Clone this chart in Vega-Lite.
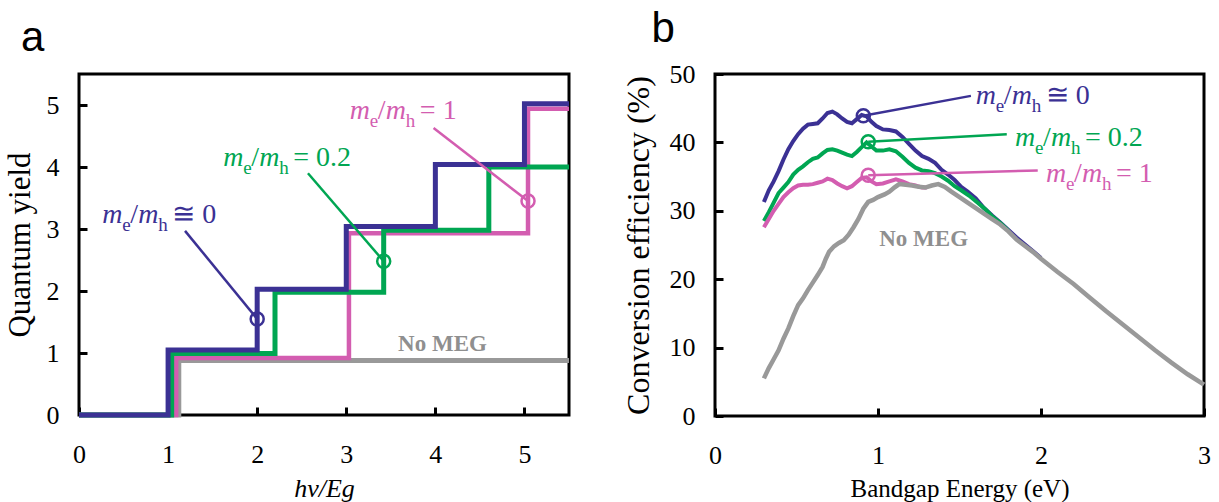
{
  "$schema": "https://vega.github.io/schema/vega-lite/v6.json",
  "background": "white",
  "padding": {"left": 2, "top": 6, "right": 5, "bottom": 0},
  "spacing": 146,
  "bounds": "flush",
  "config": {
    "view": {"stroke": "black", "strokeWidth": 3},
    "axis": {
      "domain": false, "grid": false, "tickColor": "black", "tickWidth": 3, "tickSize": -8,
      "labelFont": "Liberation Serif", "labelFontSize": 26, "labelColor": "black",
      "labelFlush": false, "labelOverlap": false,
      "titleFont": "Liberation Serif", "titleFontWeight": "normal", "titleColor": "black"
    },
    "style": {"guide-label": {"font": "Liberation Serif"}, "guide-title": {"font": "Liberation Serif"}},
    "text": {"font": "Liberation Serif"}
  },
  "datasets": {
    "stepA": [
      {"s": "none", "x": 0, "y": 0}, {"s": "none", "x": 1.12, "y": 0.88}, {"s": "none", "x": 5.5, "y": 0.88},
      {"s": "m1", "x": 0, "y": 0}, {"s": "m1", "x": 1.09, "y": 0.92}, {"s": "m1", "x": 3.03, "y": 2.93}, {"s": "m1", "x": 5.04, "y": 4.94}, {"s": "m1", "x": 5.5, "y": 4.94},
      {"s": "m02", "x": 0, "y": 0}, {"s": "m02", "x": 1.04, "y": 0.99}, {"s": "m02", "x": 2.2, "y": 1.98}, {"s": "m02", "x": 3.42, "y": 2.98}, {"s": "m02", "x": 4.6, "y": 4.0}, {"s": "m02", "x": 5.5, "y": 4.0},
      {"s": "m0", "x": 0, "y": 0}, {"s": "m0", "x": 1, "y": 1.05}, {"s": "m0", "x": 2, "y": 2.03}, {"s": "m0", "x": 3, "y": 3.04}, {"s": "m0", "x": 4, "y": 4.04}, {"s": "m0", "x": 5, "y": 5.02}, {"s": "m0", "x": 5.5, "y": 5.02}
    ],
    "annA": [
      {"s": "m0", "x": 2.0, "y": 1.55, "x2": 1.19, "y2": 2.97},
      {"s": "m02", "x": 3.42, "y": 2.48, "x2": 2.57, "y2": 3.9},
      {"s": "m1", "x": 5.04, "y": 3.45, "x2": 3.98, "y2": 4.63}
    ],
    "labA": [
      {"s": "m0", "x": 0.26, "y": 3.1, "rhs": "≅ 0"},
      {"s": "m02", "x": 1.62, "y": 4.02, "rhs": "= 0.2"},
      {"s": "m1", "x": 3.04, "y": 4.77, "rhs": "= 1"}
    ],
    "megA": [{"x": 4.08, "y": 1.03}],
    "tagA": [{"x": -0.65, "y": 5.87, "t": "a"}],
    "effB": [
      {"s": "m0", "x": 0.30, "y": 31.3}, {"s": "m0", "x": 0.33, "y": 33.0}, {"s": "m0", "x": 0.36, "y": 34.3}, {"s": "m0", "x": 0.39, "y": 35.8}, {"s": "m0", "x": 0.42, "y": 37.5}, {"s": "m0", "x": 0.45, "y": 39.0}, {"s": "m0", "x": 0.48, "y": 40.2}, {"s": "m0", "x": 0.51, "y": 41.2}, {"s": "m0", "x": 0.54, "y": 42.0}, {"s": "m0", "x": 0.57, "y": 42.6}, {"s": "m0", "x": 0.60, "y": 42.7}, {"s": "m0", "x": 0.63, "y": 42.8}, {"s": "m0", "x": 0.66, "y": 43.5}, {"s": "m0", "x": 0.69, "y": 44.3}, {"s": "m0", "x": 0.72, "y": 44.5}, {"s": "m0", "x": 0.75, "y": 44.1}, {"s": "m0", "x": 0.78, "y": 43.5}, {"s": "m0", "x": 0.81, "y": 43.0}, {"s": "m0", "x": 0.84, "y": 42.8}, {"s": "m0", "x": 0.87, "y": 43.4}, {"s": "m0", "x": 0.90, "y": 44.0}, {"s": "m0", "x": 0.93, "y": 43.8}, {"s": "m0", "x": 0.96, "y": 43.0}, {"s": "m0", "x": 0.99, "y": 42.4}, {"s": "m0", "x": 1.03, "y": 41.9}, {"s": "m0", "x": 1.07, "y": 41.8}, {"s": "m0", "x": 1.11, "y": 41.6}, {"s": "m0", "x": 1.15, "y": 40.8}, {"s": "m0", "x": 1.19, "y": 39.8}, {"s": "m0", "x": 1.23, "y": 38.8}, {"s": "m0", "x": 1.27, "y": 38.0}, {"s": "m0", "x": 1.31, "y": 37.6}, {"s": "m0", "x": 1.35, "y": 37.0}, {"s": "m0", "x": 1.39, "y": 36.0}, {"s": "m0", "x": 1.43, "y": 35.3}, {"s": "m0", "x": 1.47, "y": 34.5}, {"s": "m0", "x": 1.51, "y": 33.5}, {"s": "m0", "x": 1.55, "y": 32.8}, {"s": "m0", "x": 1.60, "y": 31.8}, {"s": "m0", "x": 1.65, "y": 30.4}, {"s": "m0", "x": 1.70, "y": 29.3}, {"s": "m0", "x": 1.75, "y": 28.3}, {"s": "m0", "x": 1.80, "y": 27.2}, {"s": "m0", "x": 1.85, "y": 26.1}, {"s": "m0", "x": 1.90, "y": 25.1}, {"s": "m0", "x": 1.95, "y": 24.1}, {"s": "m0", "x": 2.00, "y": 23.1},
      {"s": "m02", "x": 0.30, "y": 28.5}, {"s": "m02", "x": 0.33, "y": 29.8}, {"s": "m02", "x": 0.36, "y": 31.2}, {"s": "m02", "x": 0.39, "y": 32.6}, {"s": "m02", "x": 0.42, "y": 33.4}, {"s": "m02", "x": 0.45, "y": 34.2}, {"s": "m02", "x": 0.48, "y": 35.3}, {"s": "m02", "x": 0.51, "y": 36.0}, {"s": "m02", "x": 0.54, "y": 36.5}, {"s": "m02", "x": 0.57, "y": 37.1}, {"s": "m02", "x": 0.60, "y": 37.6}, {"s": "m02", "x": 0.63, "y": 37.8}, {"s": "m02", "x": 0.66, "y": 38.4}, {"s": "m02", "x": 0.69, "y": 38.9}, {"s": "m02", "x": 0.72, "y": 39.0}, {"s": "m02", "x": 0.75, "y": 38.8}, {"s": "m02", "x": 0.78, "y": 38.5}, {"s": "m02", "x": 0.81, "y": 38.2}, {"s": "m02", "x": 0.84, "y": 38.0}, {"s": "m02", "x": 0.87, "y": 38.6}, {"s": "m02", "x": 0.90, "y": 39.3}, {"s": "m02", "x": 0.93, "y": 40.0}, {"s": "m02", "x": 0.96, "y": 39.4}, {"s": "m02", "x": 0.99, "y": 38.8}, {"s": "m02", "x": 1.03, "y": 38.8}, {"s": "m02", "x": 1.07, "y": 39.0}, {"s": "m02", "x": 1.11, "y": 38.7}, {"s": "m02", "x": 1.15, "y": 37.9}, {"s": "m02", "x": 1.19, "y": 37.0}, {"s": "m02", "x": 1.23, "y": 36.3}, {"s": "m02", "x": 1.27, "y": 35.9}, {"s": "m02", "x": 1.31, "y": 35.8}, {"s": "m02", "x": 1.35, "y": 35.5}, {"s": "m02", "x": 1.39, "y": 35.0}, {"s": "m02", "x": 1.43, "y": 34.4}, {"s": "m02", "x": 1.47, "y": 33.6}, {"s": "m02", "x": 1.51, "y": 33.0}, {"s": "m02", "x": 1.56, "y": 32.2}, {"s": "m02", "x": 1.61, "y": 31.2}, {"s": "m02", "x": 1.66, "y": 30.2}, {"s": "m02", "x": 1.70, "y": 29.2}, {"s": "m02", "x": 1.75, "y": 28.2}, {"s": "m02", "x": 1.80, "y": 27.1},
      {"s": "m1", "x": 0.30, "y": 27.6}, {"s": "m1", "x": 0.33, "y": 28.8}, {"s": "m1", "x": 0.36, "y": 30.0}, {"s": "m1", "x": 0.39, "y": 31.0}, {"s": "m1", "x": 0.42, "y": 32.0}, {"s": "m1", "x": 0.45, "y": 32.7}, {"s": "m1", "x": 0.48, "y": 33.3}, {"s": "m1", "x": 0.51, "y": 33.7}, {"s": "m1", "x": 0.54, "y": 33.8}, {"s": "m1", "x": 0.57, "y": 33.8}, {"s": "m1", "x": 0.60, "y": 33.9}, {"s": "m1", "x": 0.63, "y": 34.1}, {"s": "m1", "x": 0.66, "y": 34.3}, {"s": "m1", "x": 0.69, "y": 34.7}, {"s": "m1", "x": 0.72, "y": 34.5}, {"s": "m1", "x": 0.75, "y": 34.0}, {"s": "m1", "x": 0.78, "y": 33.6}, {"s": "m1", "x": 0.81, "y": 33.3}, {"s": "m1", "x": 0.84, "y": 33.6}, {"s": "m1", "x": 0.87, "y": 34.2}, {"s": "m1", "x": 0.90, "y": 34.8}, {"s": "m1", "x": 0.93, "y": 34.9}, {"s": "m1", "x": 0.96, "y": 34.3}, {"s": "m1", "x": 0.99, "y": 33.9}, {"s": "m1", "x": 1.03, "y": 34.0}, {"s": "m1", "x": 1.07, "y": 34.3}, {"s": "m1", "x": 1.11, "y": 34.6}, {"s": "m1", "x": 1.15, "y": 34.3}, {"s": "m1", "x": 1.19, "y": 33.9}, {"s": "m1", "x": 1.23, "y": 33.7}, {"s": "m1", "x": 1.27, "y": 33.4}, {"s": "m1", "x": 1.30, "y": 33.4},
      {"s": "none", "x": 0.30, "y": 5.5}, {"s": "none", "x": 0.33, "y": 7.0}, {"s": "none", "x": 0.36, "y": 8.3}, {"s": "none", "x": 0.39, "y": 9.6}, {"s": "none", "x": 0.42, "y": 11.3}, {"s": "none", "x": 0.45, "y": 12.8}, {"s": "none", "x": 0.48, "y": 14.6}, {"s": "none", "x": 0.51, "y": 16.2}, {"s": "none", "x": 0.54, "y": 17.2}, {"s": "none", "x": 0.57, "y": 18.4}, {"s": "none", "x": 0.60, "y": 19.5}, {"s": "none", "x": 0.63, "y": 20.6}, {"s": "none", "x": 0.66, "y": 21.8}, {"s": "none", "x": 0.68, "y": 23.0}, {"s": "none", "x": 0.70, "y": 24.0}, {"s": "none", "x": 0.73, "y": 24.8}, {"s": "none", "x": 0.76, "y": 25.3}, {"s": "none", "x": 0.79, "y": 25.7}, {"s": "none", "x": 0.82, "y": 26.5}, {"s": "none", "x": 0.85, "y": 27.6}, {"s": "none", "x": 0.88, "y": 28.8}, {"s": "none", "x": 0.91, "y": 30.3}, {"s": "none", "x": 0.94, "y": 31.3}, {"s": "none", "x": 0.97, "y": 31.6}, {"s": "none", "x": 1.00, "y": 32.0}, {"s": "none", "x": 1.04, "y": 32.4}, {"s": "none", "x": 1.07, "y": 32.8}, {"s": "none", "x": 1.10, "y": 33.4}, {"s": "none", "x": 1.13, "y": 33.9}, {"s": "none", "x": 1.17, "y": 33.8}, {"s": "none", "x": 1.21, "y": 33.7}, {"s": "none", "x": 1.25, "y": 33.5}, {"s": "none", "x": 1.29, "y": 33.4}, {"s": "none", "x": 1.33, "y": 33.7}, {"s": "none", "x": 1.37, "y": 33.9}, {"s": "none", "x": 1.41, "y": 33.5}, {"s": "none", "x": 1.45, "y": 32.8}, {"s": "none", "x": 1.50, "y": 32.0}, {"s": "none", "x": 1.55, "y": 31.2}, {"s": "none", "x": 1.60, "y": 30.4}, {"s": "none", "x": 1.65, "y": 29.6}, {"s": "none", "x": 1.70, "y": 28.8}, {"s": "none", "x": 1.75, "y": 28.0}, {"s": "none", "x": 1.80, "y": 27.0}, {"s": "none", "x": 1.85, "y": 25.8}, {"s": "none", "x": 1.90, "y": 24.9}, {"s": "none", "x": 1.95, "y": 24.0}, {"s": "none", "x": 2.00, "y": 23.0}, {"s": "none", "x": 2.10, "y": 21.1}, {"s": "none", "x": 2.20, "y": 19.3}, {"s": "none", "x": 2.30, "y": 17.3}, {"s": "none", "x": 2.40, "y": 15.3}, {"s": "none", "x": 2.50, "y": 13.4}, {"s": "none", "x": 2.60, "y": 11.5}, {"s": "none", "x": 2.70, "y": 9.6}, {"s": "none", "x": 2.80, "y": 7.8}, {"s": "none", "x": 2.90, "y": 6.1}, {"s": "none", "x": 3.00, "y": 4.6}
    ],
    "annB": [
      {"s": "m0", "x": 0.91, "y": 43.9, "x2": 1.57, "y2": 46.8},
      {"s": "m02", "x": 0.94, "y": 40.1, "x2": 1.79, "y2": 41.2},
      {"s": "m1", "x": 0.94, "y": 35.2, "x2": 1.98, "y2": 35.9}
    ],
    "labB": [
      {"s": "m0", "x": 1.60, "y": 45.6, "rhs": "≅ 0"},
      {"s": "m02", "x": 1.84, "y": 39.5, "rhs": "= 0.2"},
      {"s": "m1", "x": 2.03, "y": 34.2, "rhs": "= 1"}
    ],
    "megB": [{"x": 1.28, "y": 24.9}],
    "tagB": [{"x": -0.39, "y": 54.7, "t": "b"}]
  },
  "hconcat": [
    {
      "width": 490, "height": 341,
      "encoding": {
        "x": {"field": "x", "type": "quantitative", "scale": {"domain": [0, 5.5], "nice": false, "zero": false},
              "axis": {"values": [0, 1, 2, 3, 4, 5], "labelFont": "Liberation Serif", "title": "hv/Eg", "titleFont": "Liberation Serif", "titleFontStyle": "italic", "titleFontSize": 26, "labelPadding": 34, "titlePadding": 8}},
        "y": {"field": "y", "type": "quantitative", "scale": {"domain": [0, 5.5], "nice": false},
              "axis": {"values": [0, 1, 2, 3, 4, 5], "labelFont": "Liberation Serif", "title": "Quantum yield", "titleFont": "Liberation Serif", "titleFontSize": 31, "labelPadding": 28, "titlePadding": 10}}
      },
      "layer": [
        {"data": {"name": "stepA"}, "transform": [{"filter": "datum.s === 'none'"}], "mark": {"type": "line", "interpolate": "step-after", "strokeWidth": 5, "color": "#999999", "strokeJoin": "miter"}, "encoding": {}},
        {"data": {"name": "stepA"}, "transform": [{"filter": "datum.s === 'm1'"}], "mark": {"type": "line", "interpolate": "step-after", "strokeWidth": 4.5, "color": "#d35db0", "strokeJoin": "miter"}, "encoding": {}},
        {"data": {"name": "stepA"}, "transform": [{"filter": "datum.s === 'm02'"}], "mark": {"type": "line", "interpolate": "step-after", "strokeWidth": 5, "color": "#00a652", "strokeJoin": "miter"}, "encoding": {}},
        {"data": {"name": "stepA"}, "transform": [{"filter": "datum.s === 'm0'"}], "mark": {"type": "line", "interpolate": "step-after", "strokeWidth": 5, "color": "#3b3194", "strokeJoin": "miter"}, "encoding": {}},
        {"data": {"name": "annA"}, "mark": {"type": "rule", "strokeWidth": 2.5},
         "encoding": {"x2": {"field": "x2"}, "y2": {"field": "y2"}, "color": {"field": "s", "type": "nominal", "scale": {"domain": ["m0", "m02", "m1", "none"], "range": ["#3b3194", "#00a652", "#d35db0", "#999999"]}, "legend": null}}},
        {"data": {"name": "annA"}, "mark": {"type": "point", "shape": "circle", "filled": false, "size": 170, "strokeWidth": 2.5, "opacity": 1},
         "encoding": {"color": {"field": "s", "type": "nominal", "scale": {"domain": ["m0", "m02", "m1", "none"], "range": ["#3b3194", "#00a652", "#d35db0", "#999999"]}, "legend": null}}},
        {"data": {"name": "labA"}, "mark": {"type": "text", "text": "m", "fontStyle": "italic", "fontSize": 28, "align": "left", "baseline": "alphabetic", "dx": 0},
         "encoding": {"color": {"field": "s", "type": "nominal", "scale": {"domain": ["m0", "m02", "m1", "none"], "range": ["#3b3194", "#00a652", "#d35db0", "#999999"]}, "legend": null}}},
        {"data": {"name": "labA"}, "mark": {"type": "text", "text": "e", "fontSize": 19, "align": "left", "baseline": "alphabetic", "dx": 20, "dy": 8},
         "encoding": {"color": {"field": "s", "type": "nominal", "scale": {"domain": ["m0", "m02", "m1", "none"], "range": ["#3b3194", "#00a652", "#d35db0", "#999999"]}, "legend": null}}},
        {"data": {"name": "labA"}, "mark": {"type": "text", "text": "/", "fontSize": 28, "align": "left", "baseline": "alphabetic", "dx": 28},
         "encoding": {"color": {"field": "s", "type": "nominal", "scale": {"domain": ["m0", "m02", "m1", "none"], "range": ["#3b3194", "#00a652", "#d35db0", "#999999"]}, "legend": null}}},
        {"data": {"name": "labA"}, "mark": {"type": "text", "text": "m", "fontStyle": "italic", "fontSize": 28, "align": "left", "baseline": "alphabetic", "dx": 36},
         "encoding": {"color": {"field": "s", "type": "nominal", "scale": {"domain": ["m0", "m02", "m1", "none"], "range": ["#3b3194", "#00a652", "#d35db0", "#999999"]}, "legend": null}}},
        {"data": {"name": "labA"}, "mark": {"type": "text", "text": "h", "fontSize": 19, "align": "left", "baseline": "alphabetic", "dx": 56, "dy": 8},
         "encoding": {"color": {"field": "s", "type": "nominal", "scale": {"domain": ["m0", "m02", "m1", "none"], "range": ["#3b3194", "#00a652", "#d35db0", "#999999"]}, "legend": null}}},
        {"data": {"name": "labA"}, "mark": {"type": "text", "fontSize": 28, "align": "left", "baseline": "alphabetic", "dx": 70},
         "encoding": {"text": {"field": "rhs"}, "color": {"field": "s", "type": "nominal", "scale": {"domain": ["m0", "m02", "m1", "none"], "range": ["#3b3194", "#00a652", "#d35db0", "#999999"]}, "legend": null}}},
        {"data": {"name": "megA"}, "mark": {"type": "text", "text": "No MEG", "fontSize": 23, "fontWeight": "bold", "color": "#8f8f8f", "align": "center", "baseline": "alphabetic"}},
        {"data": {"name": "tagA"}, "mark": {"type": "text", "font": "Liberation Sans", "fontSize": 42, "color": "black", "align": "left", "baseline": "alphabetic"}, "encoding": {"text": {"field": "t"}}}
      ]
    },
    {
      "width": 489, "height": 342,
      "encoding": {
        "x": {"field": "x", "type": "quantitative", "scale": {"domain": [0, 3], "nice": false, "zero": false},
              "axis": {"values": [0, 1, 2, 3], "labelFont": "Liberation Serif", "title": "Bandgap Energy (eV)", "titleFont": "Liberation Serif", "titleFontSize": 25, "labelPadding": 34, "titlePadding": 8}},
        "y": {"field": "y", "type": "quantitative", "scale": {"domain": [0, 50], "nice": false},
              "axis": {"values": [0, 10, 20, 30, 40, 50], "labelFont": "Liberation Serif", "title": "Conversion efficiency (%)", "titleFont": "Liberation Serif", "titleFontSize": 32, "labelPadding": 28, "titlePadding": 14}}
      },
      "layer": [
        {"data": {"name": "effB"}, "transform": [{"filter": "datum.s === 'm0'"}], "mark": {"type": "line", "strokeWidth": 4, "color": "#3b3194"}, "encoding": {}},
        {"data": {"name": "effB"}, "transform": [{"filter": "datum.s === 'm02'"}], "mark": {"type": "line", "strokeWidth": 4, "color": "#00a652"}, "encoding": {}},
        {"data": {"name": "effB"}, "transform": [{"filter": "datum.s === 'm1'"}], "mark": {"type": "line", "strokeWidth": 4, "color": "#d35db0"}, "encoding": {}},
        {"data": {"name": "effB"}, "transform": [{"filter": "datum.s === 'none'"}], "mark": {"type": "line", "strokeWidth": 4.5, "color": "#999999"}, "encoding": {}},
        {"data": {"name": "annB"}, "mark": {"type": "rule", "strokeWidth": 2.5},
         "encoding": {"x2": {"field": "x2"}, "y2": {"field": "y2"}, "color": {"field": "s", "type": "nominal", "scale": {"domain": ["m0", "m02", "m1", "none"], "range": ["#3b3194", "#00a652", "#d35db0", "#999999"]}, "legend": null}}},
        {"data": {"name": "annB"}, "mark": {"type": "point", "shape": "circle", "filled": false, "size": 170, "strokeWidth": 2.5, "opacity": 1},
         "encoding": {"color": {"field": "s", "type": "nominal", "scale": {"domain": ["m0", "m02", "m1", "none"], "range": ["#3b3194", "#00a652", "#d35db0", "#999999"]}, "legend": null}}},
        {"data": {"name": "labB"}, "mark": {"type": "text", "text": "m", "fontStyle": "italic", "fontSize": 28, "align": "left", "baseline": "alphabetic", "dx": 0},
         "encoding": {"color": {"field": "s", "type": "nominal", "scale": {"domain": ["m0", "m02", "m1", "none"], "range": ["#3b3194", "#00a652", "#d35db0", "#999999"]}, "legend": null}}},
        {"data": {"name": "labB"}, "mark": {"type": "text", "text": "e", "fontSize": 19, "align": "left", "baseline": "alphabetic", "dx": 20, "dy": 8},
         "encoding": {"color": {"field": "s", "type": "nominal", "scale": {"domain": ["m0", "m02", "m1", "none"], "range": ["#3b3194", "#00a652", "#d35db0", "#999999"]}, "legend": null}}},
        {"data": {"name": "labB"}, "mark": {"type": "text", "text": "/", "fontSize": 28, "align": "left", "baseline": "alphabetic", "dx": 28},
         "encoding": {"color": {"field": "s", "type": "nominal", "scale": {"domain": ["m0", "m02", "m1", "none"], "range": ["#3b3194", "#00a652", "#d35db0", "#999999"]}, "legend": null}}},
        {"data": {"name": "labB"}, "mark": {"type": "text", "text": "m", "fontStyle": "italic", "fontSize": 28, "align": "left", "baseline": "alphabetic", "dx": 36},
         "encoding": {"color": {"field": "s", "type": "nominal", "scale": {"domain": ["m0", "m02", "m1", "none"], "range": ["#3b3194", "#00a652", "#d35db0", "#999999"]}, "legend": null}}},
        {"data": {"name": "labB"}, "mark": {"type": "text", "text": "h", "fontSize": 19, "align": "left", "baseline": "alphabetic", "dx": 56, "dy": 8},
         "encoding": {"color": {"field": "s", "type": "nominal", "scale": {"domain": ["m0", "m02", "m1", "none"], "range": ["#3b3194", "#00a652", "#d35db0", "#999999"]}, "legend": null}}},
        {"data": {"name": "labB"}, "mark": {"type": "text", "fontSize": 28, "align": "left", "baseline": "alphabetic", "dx": 70},
         "encoding": {"text": {"field": "rhs"}, "color": {"field": "s", "type": "nominal", "scale": {"domain": ["m0", "m02", "m1", "none"], "range": ["#3b3194", "#00a652", "#d35db0", "#999999"]}, "legend": null}}},
        {"data": {"name": "megB"}, "mark": {"type": "text", "text": "No MEG", "fontSize": 23, "fontWeight": "bold", "color": "#8f8f8f", "align": "center", "baseline": "alphabetic"}},
        {"data": {"name": "tagB"}, "mark": {"type": "text", "font": "Liberation Sans", "fontSize": 42, "color": "black", "align": "left", "baseline": "alphabetic"}, "encoding": {"text": {"field": "t"}}}
      ]
    }
  ]
}
